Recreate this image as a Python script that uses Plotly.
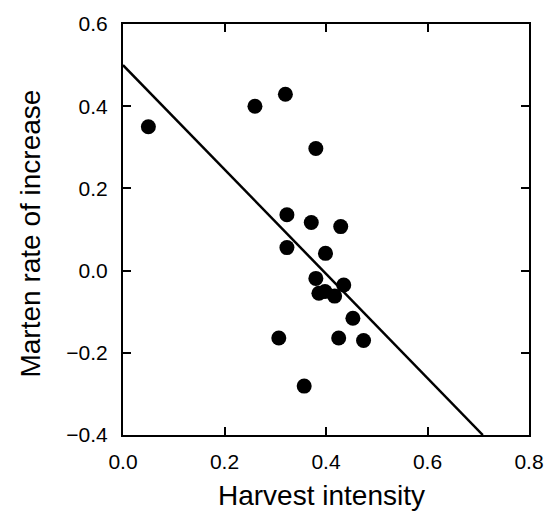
import plotly.graph_objects as go

# Data
harvest = [0.05, 0.26, 0.32, 0.38, 0.323, 0.371, 0.429, 0.323, 0.399, 0.380,
           0.435, 0.386, 0.398, 0.417, 0.453, 0.307, 0.425, 0.474, 0.357]
rate = [0.35, 0.40, 0.429, 0.297, 0.136, 0.117, 0.107, 0.056, 0.042, -0.019,
        -0.035, -0.055, -0.051, -0.062, -0.116, -0.164, -0.164, -0.170, -0.281]

fit_x = [0.0, 0.709]
fit_y = [0.50, -0.40]

x_ticks = [0.0, 0.2, 0.4, 0.6, 0.8]
x_tick_labels = ["0.0", "0.2", "0.4", "0.6", "0.8"]
y_ticks = [-0.4, -0.2, 0.0, 0.2, 0.4, 0.6]
y_tick_labels = ["\u22120.4", "\u22120.2", "0.0", "0.2", "0.4", "0.6"]

FONT = "Liberation Sans, Arial, Helvetica, sans-serif"

fig = go.Figure()
fig.add_trace(go.Scatter(x=fit_x, y=fit_y, mode="lines",
                         line=dict(color="black", width=2.5),
                         hoverinfo="skip", showlegend=False))
fig.add_trace(go.Scatter(x=harvest, y=rate, mode="markers",
                         marker=dict(color="black", size=15, line=dict(width=0)),
                         showlegend=False))

axis_common = dict(
    showgrid=False, zeroline=False, showline=True, linecolor="black", linewidth=2,
    mirror="ticks", ticks="inside", ticklen=8, tickwidth=2, tickcolor="black",
    tickfont=dict(family=FONT, size=21, color="black"),
)

fig.update_xaxes(range=[0, 0.8], tickvals=x_ticks, ticktext=x_tick_labels,
                 ticklabelstandoff=7, **axis_common)
fig.update_yaxes(range=[-0.4, 0.6], tickvals=y_ticks, ticktext=y_tick_labels,
                 ticklabelstandoff=9, **axis_common)

fig.add_annotation(text="Harvest intensity", xref="paper", yref="paper",
                   x=0.49, y=-0.1468, xanchor="center", yanchor="middle",
                   showarrow=False, font=dict(family=FONT, size=28, color="black"))
fig.add_annotation(text="Marten rate of increase", xref="paper", yref="paper",
                   x=-0.2268, y=0.49, xanchor="center", yanchor="middle", textangle=-90,
                   showarrow=False, font=dict(family=FONT, size=28, color="black"))

fig.update_layout(
    width=556, height=514,
    margin=dict(l=123, r=18.5, t=19.5, b=79),
    paper_bgcolor="white", plot_bgcolor="white",
    font=dict(family=FONT, color="black"),
)

fig.write_html(
    "out.html",
    config={"displayModeBar": False},
    post_script=(
        "document.body.style.margin='0';"
        "document.body.style.overflow='hidden';"
        "document.documentElement.style.overflow='hidden';"
    ),
)
